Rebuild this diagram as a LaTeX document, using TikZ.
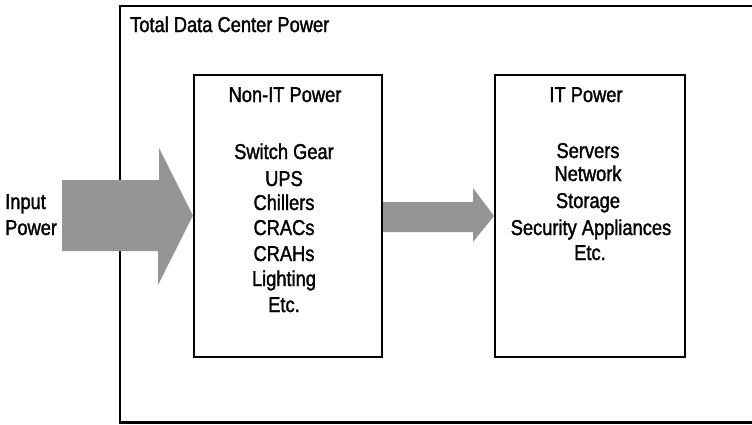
\documentclass[tikz,border=0pt]{standalone}
\usepackage{fontspec}
\setmainfont{Liberation Sans}[FakeStretch=0.85,FakeBold=1.5]
\tikzset{
  boxnode/.style={draw=black, line width=2.2pt, inner sep=0pt},
  outerbox/.style={draw=black, line width=2.8pt},
  lbl/.style={font=\fontsize{21.5}{24}\selectfont, inner sep=0pt, anchor=base},
}
\definecolor{arrowgray}{HTML}{959595}
\begin{document}
\begin{tikzpicture}[x=1pt,y=-1pt]
\useasboundingbox (0,0) rectangle (752,424);
\clip (0,0) rectangle (752,424);
% outer box
\draw[outerbox] (120,6) rectangle (780,422.5);
\node[lbl, anchor=base west] (total) at (130,32) {Total Data Center Power};
% inner boxes
\node[boxnode, minimum width=188pt, minimum height=282pt] (nonit) at (288,216) {};
\node[boxnode, minimum width=190pt, minimum height=282pt] (it) at (590,216) {};
% input arrow
\fill[arrowgray] (62,180) -- (159,180) -- (159,148) -- (193,215.5) -- (158,285) -- (158,251) -- (62,251) -- cycle;
\node[lbl, anchor=base west] (in1) at (5,209) {Input};
\node[lbl, anchor=base west] (in2) at (5,235) {Power};
% middle arrow
\fill[arrowgray] (383,202) -- (473,202) -- (473,188) -- (494,216) -- (473,242) -- (473,232) -- (383,232) -- cycle;
% Non-IT texts
\node[lbl] (nt) at (285,102) {Non-IT Power};
\node[lbl] (n1) at (284,159) {Switch Gear};
\node[lbl] (n2) at (284,186) {UPS};
\node[lbl] (n3) at (284,210) {Chillers};
\node[lbl] (n4) at (284,235) {CRACs};
\node[lbl] (n5) at (284,261) {CRAHs};
\node[lbl] (n6) at (284,286) {Lighting};
\node[lbl] (n7) at (284,312) {Etc.};
% IT texts
\node[lbl] (it0) at (586,102) {IT Power};
\node[lbl] (i1) at (588,158) {Servers};
\node[lbl] (i2) at (588,181) {Network};
\node[lbl] (i3) at (588,208) {Storage};
\node[lbl] (i4) at (591,235) {Security Appliances};
\node[lbl] (i5) at (590,260) {Etc.};
\end{tikzpicture}
\end{document}
